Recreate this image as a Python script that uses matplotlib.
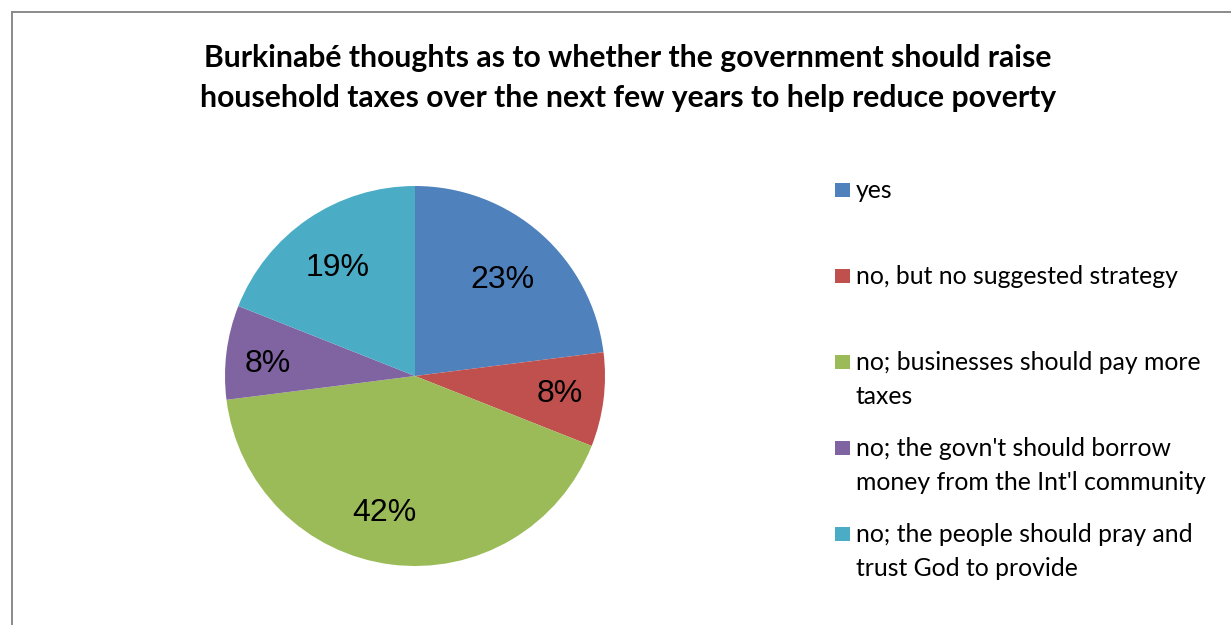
import matplotlib
matplotlib.use("Agg")
import matplotlib.pyplot as plt
from matplotlib.patches import Rectangle
from matplotlib.lines import Line2D
import numpy as np

# ---- data ----
categories = [
    "yes",
    "no, but no suggested strategy",
    "no; businesses should pay more\ntaxes",
    "no; the govn't should borrow\nmoney from the Int'l community",
    "no; the people should pray and\ntrust God to provide",
]
values = [23, 8, 42, 8, 19]
pct_labels = ["23%", "8%", "42%", "8%", "19%"]
title = ("Burkinabé thoughts as to whether the government should raise\n"
         "household taxes over the next few years to help reduce poverty")

# ---- style ----
colors = ["#4F81BD", "#C0504D", "#9BBB59", "#8064A2", "#4BACC6"]
label_r = [0.685, 0.77, 0.74, 0.78, 0.70]
label_dang = [-1.1, 0.1, -5.2, 2.6, 1.6]

W, H = 1231, 625
fig = plt.figure(figsize=(W / 100, H / 100), dpi=100)
fig.patch.set_facecolor("white")

# border (top and left visible)
fig.add_artist(Line2D([11.5 / W, 11.5 / W], [0, 1 - 12 / H], color="#8a8a8a", lw=1.4,
                      transform=fig.transFigure))
fig.add_artist(Line2D([11.5 / W, 1], [1 - 12 / H, 1 - 12 / H], color="#8a8a8a", lw=1.4,
                      transform=fig.transFigure))

# pie
cx, cy, R = 415, 376, 190
ax = fig.add_axes([(cx - R) / W, (H - cy - R) / H, 2 * R / W, 2 * R / H])
wedges, _ = ax.pie(values, colors=colors, startangle=90, counterclock=False,
                   radius=1.0, wedgeprops=dict(linewidth=0))
ax.set_xlim(-1, 1)
ax.set_ylim(-1, 1)
ax.set_aspect("equal")
ax.axis("off")

for w, lab, r, da in zip(wedges, pct_labels, label_r, label_dang):
    ang = np.deg2rad((w.theta1 + w.theta2) / 2 + da)
    ax.text(r * np.cos(ang), r * np.sin(ang), lab, ha="center", va="center",
            fontsize=23, family="Liberation Sans", color="black")

# title
fig.text(628 / W, 1 - 78 / H, title, ha="center", va="center", fontsize=21.7,
         fontweight="bold", family="Lato", linespacing=1.52)

# legend (manual)
row_y = [190, 276, 362, 448, 534]
for y, lab, c in zip(row_y, categories, colors):
    fig.add_artist(Rectangle((835 / W, 1 - (y + 7) / H), 15 / W, 14 / H,
                             transform=fig.transFigure, facecolor=c, edgecolor="none"))
    fig.text(856 / W, 1 - (y - 11) / H, lab, ha="left", va="top", fontsize=17.8,
             family="Lato", linespacing=1.6)

fig.savefig("out.png", dpi=100)
